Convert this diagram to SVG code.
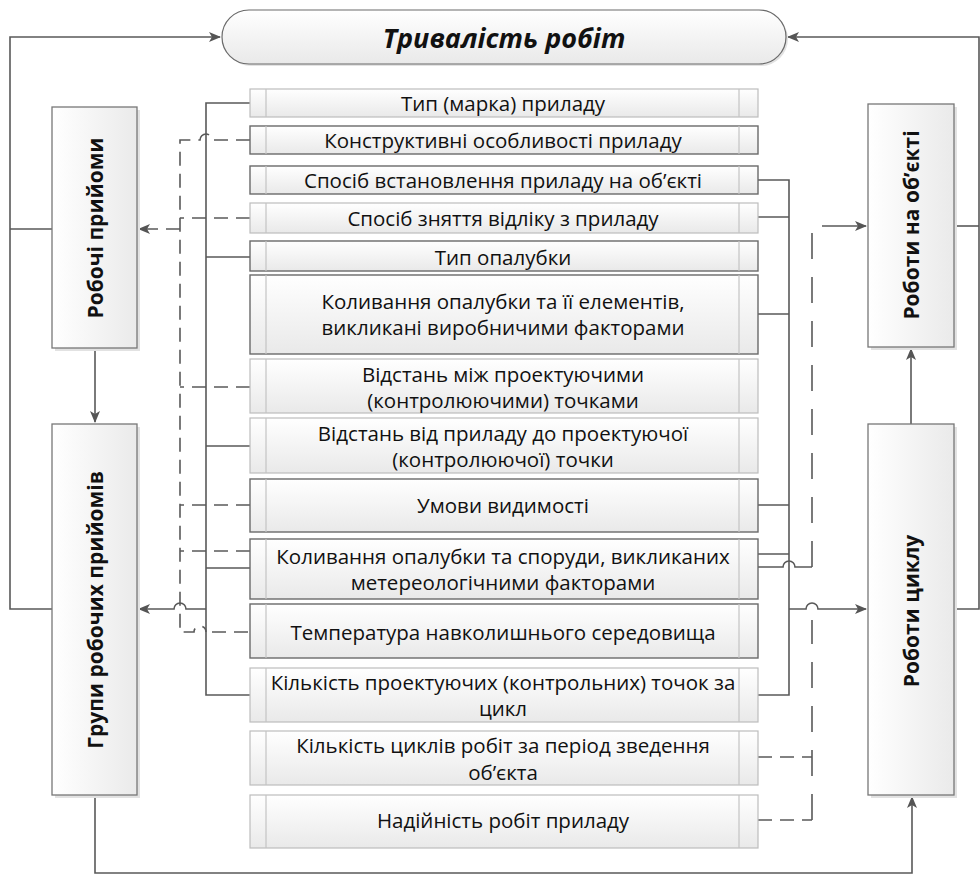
<svg xmlns="http://www.w3.org/2000/svg" width="980" height="874" viewBox="0 0 980 874">
<defs>
<linearGradient id="g" x1="0" y1="0" x2="0" y2="1"><stop offset="0" stop-color="#ffffff"/><stop offset="1" stop-color="#e9e9e9"/></linearGradient>
<linearGradient id="gh" x1="0" y1="0" x2="1" y2="0"><stop offset="0" stop-color="#ffffff"/><stop offset="1" stop-color="#eaeaea"/></linearGradient>
<marker id="a" viewBox="0 0 12 10" refX="11" refY="5" markerWidth="12" markerHeight="10" markerUnits="userSpaceOnUse" orient="auto"><path d="M0,0 L12,5 L0,10 L3,5 Z" fill="#555"/></marker>
</defs>
<style>
.ln{fill:none;stroke:#595959;stroke-width:1.6}
.ds{fill:none;stroke:#595959;stroke-width:1.6;stroke-dasharray:14 8}
.dl{fill:none;stroke:#595959;stroke-width:1.6;stroke-dasharray:26 18}
.sh{fill:#e2e2e2}
.row{fill:url(#g);stroke:#bdbdbd;stroke-width:1.2}
.dk{stroke:#6a6a6a;stroke-width:1.4}
.in{stroke:#c4c4c4;stroke-width:1.2}
.side{fill:url(#gh);stroke:#777;stroke-width:1.3}
.t{font-family:"Open Sans","Noto Sans",sans-serif;font-size:20.5px;fill:#111;text-anchor:middle;dominant-baseline:central}
.v{font-family:"Open Sans","Noto Sans",sans-serif;font-size:21px;font-weight:bold;fill:#111;text-anchor:middle;dominant-baseline:central}
.ti{font-family:"Open Sans","Noto Sans",sans-serif;font-size:27px;font-weight:bold;font-style:italic;fill:#111;text-anchor:middle;dominant-baseline:central}
</style>

<g id="connectors">
<path class="ln" d="M52,609 H10 V37 H220" marker-end="url(#a)"/>
<path class="ln" d="M52,229 H10"/>
<path class="ln" d="M954,609 H979 V37 H788" marker-end="url(#a)"/>
<path class="ln" d="M954,226 H979"/>
<path class="ln" d="M95,348 V422" marker-end="url(#a)"/>
<path class="ln" d="M95,795 V873 H912 V797" marker-end="url(#a)"/>
<path class="ln" d="M911,424 V349" marker-end="url(#a)"/>
<path class="ln" d="M250,103 H206 V695 H250"/>
<path class="ln" d="M250,257 H206 M250,446 H206 M250,568 H206"/>
<path class="ln" d="M206,609 H186 A6 6 0 0 0 174 609 H139" marker-end="url(#a)"/>
<path class="ds" d="M250,140 H212 A6 6 0 0 0 200 140 H180 V632 H194 A6 6 0 0 1 206 632 M212,632 H250"/>
<path class="ds" d="M250,218 H180 M250,387 H180 M250,505 H180 M250,551 H180"/>
<path class="ds" d="M180,229 H139" marker-end="url(#a)"/>
<path class="ln" d="M758,180 H789 V695 H758"/>
<path class="ln" d="M758,217 H789 M758,314 H789 M758,505 H789 M758,554 H789"/>
<path class="ln" d="M789,609 H806 A6 6 0 0 1 818 609 H866" marker-end="url(#a)"/>
<path class="ln" d="M758,567 H783 A6 6 0 0 1 795 567 H812"/>
<path class="dl" d="M812,567 V226"/>
<path class="ln" d="M822,226 H866" marker-end="url(#a)"/>
<path class="dl" d="M812,820 V620"/>
<path class="ds" d="M758,757 H812 M758,820 H812"/>
</g>

<g id="title">
<rect x="224" y="12" width="564" height="54" rx="27" class="sh"/>
<rect x="222" y="10" width="564" height="54" rx="27" fill="url(#g)" stroke="#6a6a6a" stroke-width="1.2"/>
<text x="504" y="37" class="ti">Тривалість робіт</text>
</g>

<g id="robochi">
<rect x="55" y="110" width="85" height="241" class="sh"/>
<rect x="52" y="107" width="85" height="241" class="side"/>
<text class="v" transform="translate(95,228) rotate(-90)">Робочі прийоми</text>
</g>
<g id="hrupy">
<rect x="55" y="427" width="85" height="371" class="sh"/>
<rect x="52" y="424" width="85" height="371" class="side"/>
<text class="v" transform="translate(95,610) rotate(-90)">Групи робочих прийомів</text>
</g>
<g id="obiekt">
<rect x="871" y="107" width="86" height="243" class="sh"/>
<rect x="868" y="104" width="86" height="243" class="side"/>
<text class="v" transform="translate(911,225) rotate(-90)">Роботи на об’єкті</text>
</g>
<g id="tsykl">
<rect x="871" y="427" width="86" height="371" class="sh"/>
<rect x="868" y="424" width="86" height="371" class="side"/>
<text class="v" transform="translate(911,611) rotate(-90)">Роботи циклу</text>
</g>

<g id="r1"><rect x="250" y="89" width="508" height="28" class="row"/><path class="in" d="M266,89 V117 M739,89 V117"/><text x="503" y="103" class="t">Тип (марка) приладу</text></g>
<g id="r2"><rect x="250" y="126" width="508" height="28" class="row dk"/><path class="in" d="M266,126 V154 M739,126 V154"/><text x="503" y="140" class="t">Конструктивні особливості приладу</text></g>
<g id="r3"><rect x="250" y="166" width="508" height="28" class="row dk"/><path class="in" d="M266,166 V194 M739,166 V194"/><text x="503" y="180" class="t">Спосіб встановлення приладу на об’єкті</text></g>
<g id="r4"><rect x="250" y="203" width="508" height="30" class="row"/><path class="in" d="M266,203 V233 M739,203 V233"/><text x="503" y="218" class="t">Спосіб зняття відліку з приладу</text></g>
<g id="r5"><rect x="250" y="241" width="508" height="30" class="row dk"/><path class="in" d="M266,241 V271 M739,241 V271"/><text x="503" y="257" class="t">Тип опалубки</text></g>
<g id="r6"><rect x="250" y="275" width="508" height="79" class="row dk"/><path class="in" d="M266,275 V354 M739,275 V354"/><text x="503" y="301" class="t">Коливання опалубки та її елементів,</text><text x="503" y="327" class="t">викликані виробничими факторами</text></g>
<g id="r7"><rect x="250" y="359" width="508" height="54" class="row"/><path class="in" d="M266,359 V413 M739,359 V413"/><text x="503" y="374" class="t">Відстань між проектуючими</text><text x="503" y="400" class="t">(контролюючими) точками</text></g>
<g id="r8"><rect x="250" y="418" width="508" height="55" class="row"/><path class="in" d="M266,418 V473 M739,418 V473"/><text x="503" y="433" class="t">Відстань від приладу до проектуючої</text><text x="503" y="459" class="t">(контролюючої) точки</text></g>
<g id="r9"><rect x="250" y="479" width="508" height="53" class="row dk"/><path class="in" d="M266,479 V532 M739,479 V532"/><text x="503" y="505" class="t">Умови видимості</text></g>
<g id="r10"><rect x="250" y="539" width="508" height="60" class="row dk"/><path class="in" d="M266,539 V599 M739,539 V599"/><text x="503" y="556" class="t">Коливання опалубки та споруди, викликаних</text><text x="503" y="582" class="t">метереологічними факторами</text></g>
<g id="r11"><rect x="250" y="604" width="508" height="54" class="row dk"/><path class="in" d="M266,604 V658 M739,604 V658"/><text x="503" y="632" class="t">Температура навколишнього середовища</text></g>
<g id="r12"><rect x="250" y="668" width="508" height="54" class="row"/><path class="in" d="M266,668 V722 M739,668 V722"/><text x="503" y="682" class="t">Кількість проектуючих (контрольних) точок за</text><text x="503" y="708" class="t">цикл</text></g>
<g id="r13"><rect x="250" y="731" width="508" height="54" class="row"/><path class="in" d="M266,731 V785 M739,731 V785"/><text x="503" y="745" class="t">Кількість циклів робіт за період зведення</text><text x="503" y="772" class="t">об’єкта</text></g>
<g id="r14"><rect x="250" y="795" width="508" height="53" class="row"/><path class="in" d="M266,795 V848 M739,795 V848"/><text x="503" y="820" class="t">Надійність робіт приладу</text></g>
</svg>
